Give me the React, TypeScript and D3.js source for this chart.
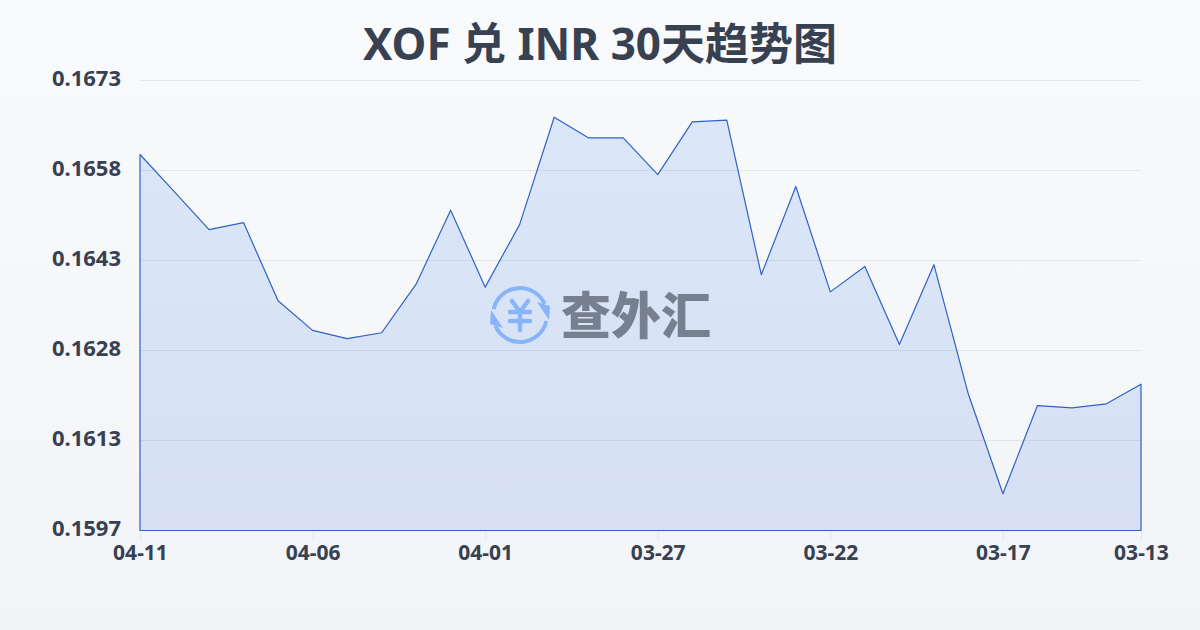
import { useEffect, useRef } from 'react'
import * as d3 from 'd3'

const LABEL_FONT = '"Noto Sans", "Noto Sans CJK SC", sans-serif'

const chartTitle = 'XOF 兑 INR 30天趋势图'
const watermarkText = '查外汇'

// newest day first, like the picture
const dates = [
	'04-11', '04-10', '04-09', '04-08', '04-07', '04-06', '04-05', '04-04', '04-03', '04-02',
	'04-01', '03-31', '03-30', '03-29', '03-28', '03-27', '03-26', '03-25', '03-24', '03-23',
	'03-22', '03-21', '03-20', '03-19', '03-18', '03-17', '03-16', '03-15', '03-14', '03-13',
]
const rates = [
	0.16605, 0.16542, 0.16478, 0.1649, 0.16358, 0.16308, 0.16294, 0.16304, 0.16386, 0.16511,
	0.16381, 0.16487, 0.16668, 0.16633, 0.16633, 0.16571, 0.1666, 0.16663, 0.16402, 0.16551,
	0.16373, 0.16416, 0.16284, 0.16419, 0.162, 0.16032, 0.16181, 0.16177, 0.16184, 0.16217,
]
const xTickDates = ['04-11', '04-06', '04-01', '03-27', '03-22', '03-17', '03-13']
const yTicks = ['0.1597', '0.1613', '0.1628', '0.1643', '0.1658', '0.1673']
const yMin = 0.1597
const yMax = 0.1673

const App = () => {
	const svgRef = useRef<SVGSVGElement>(null)

	useEffect(() => {
		const width = 1200
		const height = 630
		const margin = { top: 80.5, right: 59, bottom: 99.5, left: 140 }
		const bottomY = height - margin.bottom

		const svg = d3.select(svgRef.current)
		svg.selectAll('*').remove()

		const defs = svg.append('defs')
		const bg = defs
			.append('linearGradient')
			.attr('id', 'bg')
			.attr('x1', 0)
			.attr('y1', 0)
			.attr('x2', 0)
			.attr('y2', 1)
		bg.append('stop').attr('offset', '0%').attr('stop-color', '#f8fafc')
		bg.append('stop').attr('offset', '100%').attr('stop-color', '#f2f4f7')

		const fill = defs
			.append('linearGradient')
			.attr('id', 'areaFill')
			.attr('x1', 0)
			.attr('y1', 0)
			.attr('x2', 0)
			.attr('y2', 1)
		fill.append('stop').attr('offset', '0%').attr('stop-color', '#dbe6f9')
		fill.append('stop').attr('offset', '100%').attr('stop-color', '#d7e0f3')

		svg.append('rect').attr('width', width).attr('height', height).attr('fill', 'url(#bg)')

		// Scales
		const xScale = d3
			.scalePoint<string>()
			.domain(dates)
			.range([margin.left, width - margin.right])
		const yScale = d3.scaleLinear().domain([yMin, yMax]).range([bottomY, margin.top])
		// tick labels are rounded but evenly spaced
		const yTickScale = d3.scalePoint<string>().domain(yTicks).range([bottomY, margin.top])

		const area = d3
			.area<number>()
			.x((_, i) => xScale(dates[i]) as number)
			.y0(bottomY)
			.y1((d) => yScale(d))

		svg.append('path').datum(rates).attr('d', area).attr('fill', 'url(#areaFill)')

		// Grid
		svg
			.append('g')
			.selectAll('line')
			.data(yTicks.slice(1))
			.join('line')
			.attr('x1', margin.left)
			.attr('x2', width - margin.right)
			.attr('y1', (d) => yTickScale(d) as number)
			.attr('y2', (d) => yTickScale(d) as number)
			.attr('stroke', '#1e3a5f')
			.attr('stroke-opacity', 0.09)
			.attr('stroke-width', 1)

		// Axes
		const xAxis = d3
			.axisBottom(xScale)
			.tickValues(xTickDates)
			.tickSize(10)
			.tickPadding(5)
		const xG = svg.append('g').attr('transform', `translate(0,${bottomY})`).call(xAxis)
		xG.select('.domain').remove()
		xG.selectAll('line').attr('stroke', '#e4e7ec')
		xG.selectAll('text')
			.style('font-family', LABEL_FONT)
			.style('font-size', '21px')
			.style('font-weight', 700)
			.style('fill', '#374151')

		const yAxis = d3.axisLeft(yTickScale).tickSize(0).tickPadding(19)
		const yG = svg.append('g').attr('transform', `translate(${margin.left},-2.5)`).call(yAxis)
		yG.select('.domain').remove()
		yG.selectAll('text')
			.style('font-family', LABEL_FONT)
			.style('font-size', '22px')
			.style('font-weight', 700)
			.style('fill', '#374151')

		// Outline goes round the whole area, base and sides too
		svg
			.append('path')
			.datum(rates)
			.attr('d', area)
			.attr('fill', 'none')
			.attr('stroke', '#2f62c4')
			.attr('stroke-width', 1.2)
			.attr('stroke-linejoin', 'round')

		// Title
		svg
			.append('text')
			.attr('x', 600)
			.attr('y', 60)
			.attr('text-anchor', 'middle')
			.style('font-family', LABEL_FONT)
			.style('font-size', '44px')
			.style('font-weight', 700)
			.style('fill', '#374151')
			.text(chartTitle)

		// Watermark logo
		const logo = svg.append('g').attr('transform', 'translate(520,315)')
		const ring = d3.arc()
		logo
			.append('path')
			.attr('d', ring({ innerRadius: 25, outerRadius: 29, startAngle: -1.35, endAngle: 1.15 }) as string)
			.attr('fill', '#8ab4f8')
		logo
			.append('path')
			.attr('d', ring({ innerRadius: 25, outerRadius: 29, startAngle: 1.8, endAngle: 4.3 }) as string)
			.attr('fill', '#8ab4f8')
		logo.append('path').attr('d', 'M17,-13 L30,-9 L29,5 Z').attr('fill', '#8ab4f8')
		logo.append('path').attr('d', 'M-17,13 L-30,9 L-29,-5 Z').attr('fill', '#8ab4f8')
		logo
			.append('path')
			.attr('d', 'M-8,-14 L0,-3 L8,-14 M-10,-3 H10 M-10,6 H10 M0,-3 V15')
			.attr('fill', 'none')
			.attr('stroke', '#8ab4f8')
			.attr('stroke-width', 4.5)
			.attr('stroke-linecap', 'round')
			.attr('stroke-linejoin', 'round')

		svg
			.append('text')
			.attr('x', 636)
			.attr('y', 334)
			.attr('text-anchor', 'middle')
			.style('font-family', '"Noto Sans CJK SC", sans-serif')
			.style('font-size', '50px')
			.style('font-weight', 900)
			.style('fill', '#76808f')
			.text(watermarkText)
	}, [])

	return (
		<svg
			ref={svgRef}
			viewBox="0 0 1200 630"
			width={1200}
			height={630}
			style={{ position: 'absolute', left: 0, top: 0, display: 'block' }}
		></svg>
	)
}

export default App
